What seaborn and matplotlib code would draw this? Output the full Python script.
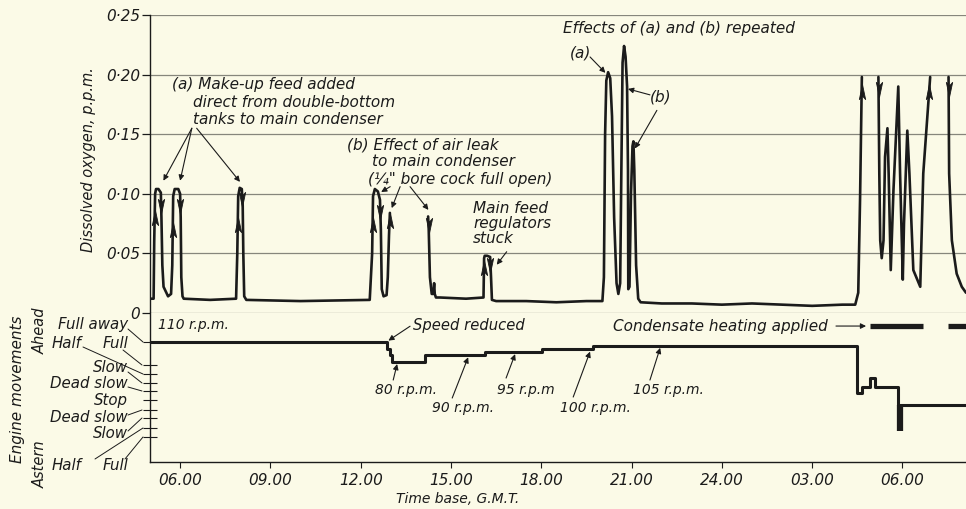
import numpy as np
import pandas as pd
import matplotlib
matplotlib.use("Agg")
import matplotlib.pyplot as plt
import seaborn as sns
from matplotlib.path import Path
from matplotlib.lines import Line2D

# ---------------- data ----------------
# time in hours (06.00 = 6, next day 03.00 = 27, 06.00 = 30); dissolved oxygen in p.p.m.
ox1_h = [5.00, 5.12, 5.14, 5.17, 5.20, 5.28, 5.36, 5.38, 5.41, 5.45, 5.60, 5.70, 5.74, 5.77, 5.82,
         5.94, 6.00, 6.02, 6.04, 6.08, 6.12, 7.00, 7.86, 7.90, 7.93, 7.98, 8.05, 8.08, 8.10, 8.13,
         8.20, 10.0, 12.30, 12.38, 12.41, 12.47, 12.57, 12.64, 12.67, 12.70, 12.76, 12.86, 12.90,
         12.94, 12.97]
ox1_v = [0.012, 0.012, 0.060, 0.100, 0.104, 0.104, 0.101, 0.080, 0.040, 0.022, 0.014, 0.016, 0.040,
         0.098, 0.104, 0.104, 0.100, 0.080, 0.030, 0.014, 0.012, 0.011, 0.012, 0.050, 0.098, 0.105,
         0.104, 0.090, 0.050, 0.014, 0.011, 0.010, 0.011, 0.050, 0.098, 0.104, 0.102, 0.095, 0.070,
         0.020, 0.014, 0.015, 0.030, 0.065, 0.084]
ox2_h = [14.24, 14.26, 14.30, 14.36, 14.41, 14.44, 14.46, 14.50, 14.64, 15.5, 16.08, 16.10, 16.12,
         16.20, 16.30, 16.33, 16.36, 16.50, 17.5, 18.5, 19.5, 20.03, 20.08, 20.12, 20.16, 20.22,
         20.29, 20.35, 20.42, 20.50, 20.56, 20.62, 20.66, 20.70, 20.75, 20.80, 20.85, 20.88, 20.89,
         20.93, 20.98, 21.03, 21.06, 21.09, 21.15, 21.22, 21.30, 22.0, 23.0, 24.0, 25.0, 26.0, 27.0,
         28.0, 28.43, 28.53, 28.59, 28.65]
ox2_v = [0.081, 0.070, 0.030, 0.016, 0.016, 0.025, 0.016, 0.013, 0.013, 0.012, 0.013, 0.046, 0.048,
         0.048, 0.047, 0.030, 0.011, 0.010, 0.010, 0.009, 0.010, 0.010, 0.030, 0.150, 0.195, 0.202,
         0.197, 0.165, 0.080, 0.025, 0.016, 0.025, 0.120, 0.210, 0.224, 0.215, 0.190, 0.120, 0.020,
         0.022, 0.100, 0.140, 0.144, 0.120, 0.040, 0.012, 0.009, 0.008, 0.008, 0.007, 0.008, 0.007,
         0.006, 0.007, 0.007, 0.017, 0.095, 0.198]
ox3_h = [29.20, 29.23, 29.26, 29.31, 29.37, 29.42, 29.50, 29.54, 29.61, 29.70, 29.86, 29.92, 30.01,
         30.05, 30.16, 30.23, 30.36, 30.59, 30.69, 30.92]
ox3_v = [0.198, 0.117, 0.061, 0.046, 0.061, 0.131, 0.155, 0.117, 0.036, 0.103, 0.190, 0.117, 0.028,
         0.075, 0.153, 0.117, 0.036, 0.022, 0.117, 0.198]
ox4_h = [31.53, 31.55, 31.64, 31.80, 31.97, 32.11]
ox4_v = [0.198, 0.117, 0.061, 0.033, 0.022, 0.017]

# direction arrowheads drawn on the trace
up_h = [5.155, 5.755, 7.915, 12.395, 12.96, 16.095, 28.643, 30.886]
up_v = [0.080, 0.070, 0.074, 0.074, 0.077, 0.038, 0.185, 0.185]
down_h = [5.37, 6.01, 8.067, 12.652, 14.254, 16.312, 29.206, 31.533]
down_v = [0.090, 0.090, 0.096, 0.085, 0.074, 0.040, 0.188, 0.188]

# engine movements (Stop = 0, ahead positive, astern negative)
eng_h = [5.0, 12.87, 12.98, 13.03, 14.14, 16.13, 18.02, 19.72, 28.48, 28.64, 28.92, 29.09, 29.86, 32.11]
eng_u = [6.44, 5.67, 5.00, 4.26, 5.00, 5.37, 5.63, 6.05, 0.74, 1.41, 2.41, 1.41, -0.56, -0.56]
astern_h = [29.93, 29.93]
astern_u = [-0.56, -3.5]
heat_h = [28.92, 30.68, 31.52, 32.11]
heat_u = [8.26, 8.26, 8.26, 8.26]
heat_seg = [0, 0, 1, 1]

eng_ticks = [6.44, 3.9, 2.9, 1.9, 1.0, 0.0, -1.1, -2.0, -3.1, -4.1]
ox_ticks = [0, 0.05, 0.10, 0.15, 0.20, 0.25]
ox_ticklabels = ["0", "0·05", "0·10", "0·15", "0·20", "0·25"]
time_ticks = [6, 9, 12, 15, 18, 21, 24, 27, 30]
time_labels = ["06.00", "09.00", "12.00", "15.00", "18.00", "21.00", "24.00", "03.00", "06.00"]

# ---------------- style ----------------
BG = "#fbfae7"
INK = "#1b1b1b"
GRID = "#86867c"
sns.set_theme(style="white")
plt.rcParams["font.family"] = ["DejaVu Sans"]
plt.rcParams["font.style"] = "italic"
plt.rcParams["text.color"] = INK

W, H = 966, 509
fig = plt.figure(figsize=(W / 100, H / 100), dpi=100, facecolor=BG)
ax1 = fig.add_axes([150 / W, (H - 313) / H, 816 / W, 298 / H], facecolor=BG)
ax2 = fig.add_axes([150 / W, (H - 462) / H, 816 / W, 149 / H], facecolor=BG, sharex=ax1)

# ---------------- oxygen trace ----------------
ox = pd.DataFrame({
    "hour": ox1_h + ox2_h + ox3_h + ox4_h,
    "ppm": ox1_v + ox2_v + ox3_v + ox4_v,
    "seg": [0] * len(ox1_h) + [1] * len(ox2_h) + [2] * len(ox3_h) + [3] * len(ox4_h),
})
sns.lineplot(data=ox, x="hour", y="ppm", units="seg", estimator=None, sort=False,
             color=INK, lw=1.9, ax=ax1, legend=False, zorder=3)

up_path = Path([(0, 1), (-0.4, -0.9), (0, -0.45), (0.4, -0.9), (0, 1)])
down_path = Path([(0, -1), (-0.4, 0.9), (0, 0.45), (0.4, 0.9), (0, -1)])
sns.scatterplot(x=up_h, y=up_v, marker=up_path, s=130, color=INK, edgecolor=INK, linewidth=0.6,
                ax=ax1, zorder=4, legend=False)
sns.scatterplot(x=down_h, y=down_v, marker=down_path, s=130, color=INK, edgecolor=INK, linewidth=0.6,
                ax=ax1, zorder=4, legend=False)

ax1.set_xlim(5.0, 32.11)
ax1.set_ylim(0, 0.25)
ax1.set_yticks(ox_ticks)
ax1.set_yticklabels(ox_ticklabels)
ax1.grid(axis="y", color=GRID, lw=0.9)
ax1.grid(axis="x", visible=False)
ax1.set_axisbelow(True)
for s in ["top", "right", "bottom"]:
    ax1.spines[s].set_visible(False)
ax1.spines["left"].set_color(INK)
ax1.spines["left"].set_linewidth(1.0)
ax1.tick_params(axis="y", left=True, direction="out", length=6, width=0.9, color=INK, pad=1,
                labelsize=11, labelcolor=INK)
ax1.tick_params(axis="x", bottom=False, labelbottom=False)
ax1.set_xlabel("")
ax1.set_ylabel("")

FS = 11
FS2 = 10
ap = dict(arrowstyle="-|>", color=INK, lw=0.8, mutation_scale=8, shrinkA=0, shrinkB=0)

# annotations, top panel
ax1.text(5.72, 0.192, "(a) Make-up feed added", fontsize=FS, va="center", ha="left")
ax1.text(6.43, 0.177, "direct from double-bottom", fontsize=FS, va="center", ha="left")
ax1.text(6.43, 0.162, "tanks to main condenser", fontsize=FS, va="center", ha="left")
for tip in [(5.445, 0.111), (6.00, 0.111)]:
    ax1.annotate("", xy=tip, xytext=(6.39, 0.155), arrowprops=ap)
ax1.annotate("", xy=(7.99, 0.110), xytext=(6.55, 0.155), arrowprops=ap)

ax1.text(11.53, 0.141, "(b) Effect of air leak", fontsize=FS, va="center", ha="left")
ax1.text(12.37, 0.127, "to main condenser", fontsize=FS, va="center", ha="left")
ax1.text(12.25, 0.112, '(¼" bore cock full open)', fontsize=FS, va="center", ha="left")
ax1.annotate("", xy=(12.68, 0.1015), xytext=(12.98, 0.106), arrowprops=ap)
ax1.annotate("", xy=(13.03, 0.088), xytext=(13.31, 0.106), arrowprops=ap)
ax1.annotate("", xy=(14.25, 0.0865), xytext=(13.64, 0.106), arrowprops=ap)

ax1.text(15.74, 0.0878, "Main feed", fontsize=FS, va="center", ha="left")
ax1.text(15.74, 0.0752, "regulators", fontsize=FS, va="center", ha="left")
ax1.text(15.74, 0.0627, "stuck", fontsize=FS, va="center", ha="left")
ax1.annotate("", xy=(16.52, 0.0405), xytext=(16.85, 0.0514), arrowprops=ap)

ax1.text(18.72, 0.239, "Effects of (a) and (b) repeated", fontsize=FS, va="center", ha="left")
ax1.text(19.29, 0.218, "(a)", fontsize=FS, va="center", ha="center")
ax1.annotate("", xy=(20.13, 0.2015), xytext=(19.62, 0.2148), arrowprops=ap)
ax1.text(21.98, 0.181, "(b)", fontsize=FS, va="center", ha="center")
ax1.annotate("", xy=(20.88, 0.188), xytext=(21.61, 0.183), arrowprops=ap)
ax1.annotate("", xy=(21.11, 0.138), xytext=(21.84, 0.170), arrowprops=ap)

# ---------------- engine movements ----------------
sns.lineplot(x=eng_h, y=eng_u, estimator=None, sort=False, drawstyle="steps-post",
             color=INK, lw=2.2, ax=ax2, legend=False)
sns.lineplot(x=astern_h, y=astern_u, estimator=None, sort=False, color=INK, lw=4.5,
             ax=ax2, legend=False, solid_capstyle="butt")
heat = pd.DataFrame({"hour": heat_h, "level": heat_u, "seg": heat_seg})
sns.lineplot(data=heat, x="hour", y="level", units="seg", estimator=None, sort=False,
             color=INK, lw=3.8, ax=ax2, legend=False, solid_capstyle="butt")

ax2.set_ylim(-6.89, 9.67)
ax2.set_yticks(eng_ticks)
ax2.set_yticklabels([""] * len(eng_ticks))
ax2.set_xticks(time_ticks)
ax2.set_xticklabels(time_labels)
ax2.grid(False)
for s in ["top", "right"]:
    ax2.spines[s].set_visible(False)
for s in ["left", "bottom"]:
    ax2.spines[s].set_color(INK)
    ax2.spines[s].set_linewidth(1.0)
ax2.tick_params(axis="y", left=True, direction="inout", length=9.5, width=0.8, color=INK)
ax2.tick_params(axis="x", direction="out", length=4, width=0.8, color=INK, pad=4, labelsize=11,
                labelcolor=INK, bottom=True)
ax2.set_xlabel("")
ax2.set_ylabel("")

ax2.text(5.27, 8.33, "110 r.p.m.", fontsize=FS2, va="center", ha="left")
ax2.text(13.74, 8.33, "Speed reduced", fontsize=10.6, va="center", ha="left")
ax2.annotate("", xy=(12.92, 6.6), xytext=(13.64, 8.2), arrowprops=ap)
ax2.text(12.48, 1.11, "80 r.p.m.", fontsize=FS2, va="center", ha="left")
ax2.annotate("", xy=(13.21, 4.0), xytext=(13.08, 2.22), arrowprops=ap)
ax2.text(14.36, -0.89, "90 r.p.m.", fontsize=FS2, va="center", ha="left")
ax2.annotate("", xy=(15.57, 4.75), xytext=(15.04, 0.22), arrowprops=ap)
ax2.text(16.52, 1.11, "95 r.p.m", fontsize=FS2, va="center", ha="left")
ax2.annotate("", xy=(17.13, 5.1), xytext=(16.83, 2.44), arrowprops=ap)
ax2.text(18.62, -0.89, "100 r.p.m.", fontsize=FS2, va="center", ha="left")
ax2.annotate("", xy=(19.62, 5.38), xytext=(19.06, 0.33), arrowprops=ap)
ax2.text(21.05, 1.11, "105 r.p.m.", fontsize=FS2, va="center", ha="left")
ax2.annotate("", xy=(21.95, 5.8), xytext=(21.61, 2.22), arrowprops=ap)
ax2.text(20.39, 8.22, "Condensate heating applied", fontsize=FS, va="center", ha="left")
ax2.annotate("", xy=(28.79, 8.22), xytext=(27.79, 8.22), arrowprops=ap)

# ---------------- labels outside axes (figure pixels) ----------------
def fx(px):
    return px / W


def fy(py):
    return 1 - py / H


fig.text(fx(88), fy(160), "Dissolved oxygen, p.p.m.", rotation=90, ha="center", va="center",
         fontsize=10.5)
fig.text(fx(18), fy(389), "Engine movements", rotation=90, ha="center", va="center", fontsize=11)
fig.text(fx(40), fy(331), "Ahead", rotation=90, ha="center", va="center", fontsize=10.5)
fig.text(fx(40), fy(464), "Astern", rotation=90, ha="center", va="center", fontsize=10.5)
fig.text(fx(458), fy(499), "Time base, G.M.T.", ha="center", va="center", fontsize=10)

eng_labels = [("Full away", 128, 325, "right"), ("Half", 52, 343, "left"), ("Full", 128, 343, "right"),
              ("Slow", 128, 368, "right"), ("Dead slow", 128, 383, "right"), ("Stop", 128, 400, "right"),
              ("Dead slow", 128, 417, "right"), ("Slow", 128, 433, "right"),
              ("Half", 52, 465, "left"), ("Full", 128, 465, "right")]
for txt, px, py, ha in eng_labels:
    fig.text(fx(px), fy(py), txt, ha=ha, va="center", fontsize=10.8)

leaders = [((128, 329), (143, 342)), ((83, 347), (143, 374)), ((123, 350), (142, 365)),
           ((128, 372), (142, 383)), ((128, 387), (142, 391)), ((128, 415), (142, 410)),
           ((128, 431), (142, 418)), ((95, 459), (143, 428)), ((125, 459), (143, 437))]
for (x0, y0), (x1, y1) in leaders:
    fig.add_artist(Line2D([fx(x0), fx(x1)], [fy(y0), fy(y1)], transform=fig.transFigure,
                          color=INK, lw=0.7))

fig.savefig("out.png", dpi=100, facecolor=BG)
